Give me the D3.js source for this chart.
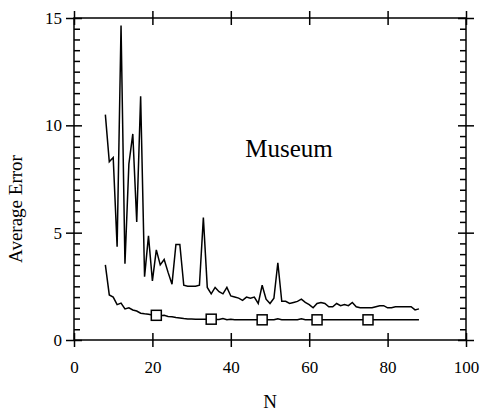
<!DOCTYPE html>
<html>
<head>
<meta charset="utf-8">
<script src="https://cdn.jsdelivr.net/npm/d3@7"></script>
<style>
  body { margin: 0; background: #fff; }
  svg text { font-family: "Liberation Serif", "Times New Roman", serif !important; }
</style>
</head>
<body>
<svg id="chart" width="480" height="414"></svg>
<script>
// N values (8 .. 88)
const nValues = d3.range(8, 89)

// upper (spiky) curve
const upperErr = [
    10.5, 8.3, 8.5, 4.35, 14.65, 3.55, 8.2, 9.6, 5.5, 11.35,
    2.95, 4.85, 2.75, 4.2, 3.5, 3.75, 3.15, 2.6, 4.45, 4.45,
    2.55, 2.5, 2.5, 2.5, 2.55, 5.7, 2.45, 2.15, 2.45, 2.25,
    2.15, 2.45, 2.05, 2.0, 1.95, 1.85, 2.0, 1.95, 2.0, 1.7,
    2.55, 1.9, 1.7, 1.95, 3.6, 1.8, 1.8, 1.7, 1.75, 1.8,
    1.9, 1.75, 1.65, 1.5, 1.7, 1.75, 1.7, 1.55, 1.55, 1.7,
    1.6, 1.65, 1.6, 1.75, 1.55, 1.5, 1.5, 1.5, 1.5, 1.55,
    1.6, 1.6, 1.5, 1.5, 1.55, 1.55, 1.55, 1.55, 1.55, 1.4,
    1.45
]

// lower (smooth) curve
const lowerErr = [
    3.5, 2.1, 2.0, 1.65, 1.72, 1.45, 1.5, 1.4, 1.35, 1.25,
    1.22, 1.2, 1.17, 1.15, 1.13, 1.15, 1.1, 1.08, 1.05, 1.03,
    1.0, 0.98, 0.98, 0.97, 0.97, 0.97, 0.97, 0.97, 0.96, 0.96,
    1.0, 0.94, 0.97, 0.94, 0.94, 0.94, 0.94, 0.94, 0.94, 0.94,
    0.94, 0.94, 0.94, 0.94, 0.99, 0.94, 0.94, 0.94, 0.94, 0.94,
    0.99, 0.94, 0.94, 0.94, 0.94, 0.94, 0.94, 0.94, 0.94, 0.94,
    0.94, 0.94, 0.94, 0.94, 0.94, 0.94, 0.94, 0.94, 0.94, 0.94,
    0.94, 0.94, 0.94, 0.94, 0.94, 0.94, 0.94, 0.94, 0.94, 0.94,
    0.94
]

// N positions of the square markers on the lower curve
const markerN = [21, 35, 48, 62, 75]

const xTicks = [0, 20, 40, 60, 80, 100]
const yTicks = [0, 5, 10, 15]

const plotL = 74, plotR = 466, plotT = 18, plotB = 340

const svg = d3.select("#chart")

const x = d3.scaleLinear().domain([0, 100]).range([plotL, plotR])
const y = d3.scaleLinear().domain([0, 15]).range([plotB, plotT])

const yMinor = d3.range(0, 15.01, 0.5).filter(v => v % 5 !== 0)

// frame
svg.append("rect")
    .attr("x", plotL).attr("y", plotT)
    .attr("width", plotR - plotL).attr("height", plotB - plotT)
    .attr("fill", "none").attr("stroke", "#000").attr("stroke-width", 1.5)

// bottom axis
const bottomAxis = d3.axisBottom(x).tickValues(xTicks).tickSizeInner(7).tickSizeOuter(0).tickPadding(14)
const gb = svg.append("g").attr("transform", `translate(0,${plotB})`).call(bottomAxis)
// top axis
const topAxis = d3.axisTop(x).tickValues(xTicks).tickSizeInner(7).tickSizeOuter(0).tickFormat("")
const gt = svg.append("g").attr("transform", `translate(0,${plotT})`).call(topAxis)
// left axis
const leftAxis = d3.axisLeft(y).tickValues(yTicks).tickSizeInner(8).tickSizeOuter(0).tickPadding(4)
const gl = svg.append("g").attr("transform", `translate(${plotL},0)`).call(leftAxis)
// right axis
const rightAxis = d3.axisRight(y).tickValues(yTicks).tickSizeInner(8).tickSizeOuter(0).tickFormat("")
const gr = svg.append("g").attr("transform", `translate(${plotR},0)`).call(rightAxis)

// extend major ticks through the frame
gb.selectAll(".tick line").attr("y1", -7)
gt.selectAll(".tick line").attr("y1", 7)
gl.selectAll(".tick line").attr("x1", 8)
gr.selectAll(".tick line").attr("x1", -8)

// minor y ticks, inside only
svg.append("g").attr("transform", `translate(${plotL},0)`)
    .call(d3.axisRight(y).tickValues(yMinor).tickSize(6).tickFormat(""))
svg.append("g").attr("transform", `translate(${plotR},0)`)
    .call(d3.axisLeft(y).tickValues(yMinor).tickSize(6).tickFormat(""))

svg.selectAll("g").attr("font-size", 17)
svg.selectAll(".domain").remove()
svg.selectAll(".tick line").attr("stroke", "#000").attr("stroke-width", 1.5)
svg.selectAll(".tick text").attr("fill", "#000")

// data lines
const line = d3.line()
    .x((d, i) => x(nValues[i]))
    .y(d => y(d))

svg.append("path").datum(upperErr)
    .attr("d", line)
    .attr("fill", "none").attr("stroke", "#000").attr("stroke-width", 1.5)

svg.append("path").datum(lowerErr)
    .attr("d", line)
    .attr("fill", "none").attr("stroke", "#000").attr("stroke-width", 1.5)

const ms = 10
svg.selectAll("rect.marker")
    .data(markerN)
    .enter()
    .append("rect")
    .attr("class", "marker")
    .attr("x", d => x(d) - ms / 2)
    .attr("y", d => y(lowerErr[nValues.indexOf(d)]) - ms / 2)
    .attr("width", ms).attr("height", ms)
    .attr("fill", "#fff").attr("stroke", "#000").attr("stroke-width", 1.5)

// labels
svg.append("text")
    .attr("x", (plotL + plotR) / 2).attr("y", 408)
    .attr("text-anchor", "middle")
    .attr("font-size", 19)
    .text("N")

svg.append("text")
    .attr("transform", `translate(22,${(plotT + plotB) / 2 + 30}) rotate(-90)`)
    .attr("text-anchor", "middle")
    .attr("font-size", 19)
    .text("Average Error")

svg.append("text")
    .attr("x", 289).attr("y", 157)
    .attr("text-anchor", "middle")
    .attr("font-size", 25)
    .text("Museum")
</script>
</body>
</html>
